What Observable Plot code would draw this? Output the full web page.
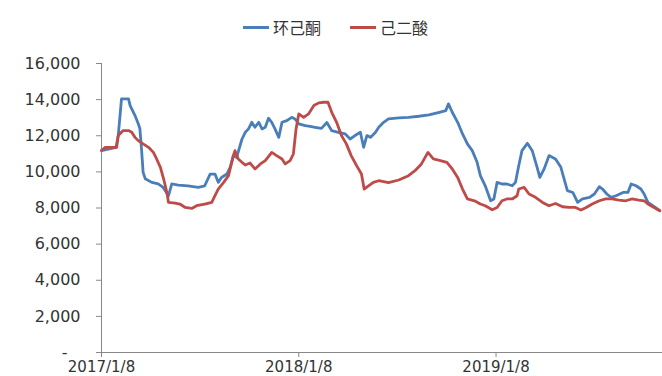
<!DOCTYPE html>
<html><head><meta charset="utf-8">
<script src="https://cdn.jsdelivr.net/npm/d3@7"></script>
<script src="https://cdn.jsdelivr.net/npm/@observablehq/plot@0.6"></script>
<style>
html,body{margin:0;padding:0;overflow:hidden;background:#fff;width:662px;height:376px}
#wrap{position:relative;width:662px;height:376px;overflow:hidden}
#legend{position:absolute;left:0;top:0;width:662px;height:45px;font-family:"DejaVu Sans","Noto Sans CJK SC",sans-serif;font-size:16px;color:#333}
.item{position:absolute;top:17px;height:20px;display:flex;align-items:center;white-space:nowrap}
.sw{width:26px;height:3px;margin-right:4px}
#chart{position:absolute;left:0;top:45px}
</style></head><body>
<div id="wrap">
  <div id="legend"></div>
  <div id="chart"></div>
</div>
<script>
const seriesNames = ["环己酮", "己二酸"];
const seriesColors = ["#4A7EBB", "#BE4B48"];
const xTickLabels = ["2017-01-08", "2018-01-08", "2019-01-08"];
const yTicks = [0, 2000, 4000, 6000, 8000, 10000, 12000, 14000, 16000];

const blueDates = ["2017-01-08","2017-02-04","2017-02-08","2017-02-14","2017-02-27","2017-03-02","2017-03-11","2017-03-17","2017-03-20","2017-03-23","2017-03-26","2017-03-30","2017-04-11","2017-04-23","2017-05-02","2017-05-12","2017-05-18","2017-05-30","2017-06-17","2017-07-06","2017-07-18","2017-07-28","2017-08-06","2017-08-12","2017-08-18","2017-08-28","2017-09-03","2017-09-09","2017-09-15","2017-09-25","2017-10-01","2017-10-07","2017-10-13","2017-10-19","2017-10-26","2017-11-01","2017-11-07","2017-11-13","2017-11-19","2017-11-25","2017-12-02","2017-12-08","2017-12-17","2017-12-26","2018-01-01","2018-01-08","2018-01-20","2018-01-29","2018-02-07","2018-02-19","2018-03-01","2018-03-10","2018-03-22","2018-04-04","2018-04-13","2018-04-22","2018-05-02","2018-05-08","2018-05-14","2018-05-21","2018-05-30","2018-06-05","2018-06-14","2018-06-23","2018-07-12","2018-07-30","2018-08-18","2018-09-06","2018-09-25","2018-10-07","2018-10-12","2018-10-19","2018-10-29","2018-11-07","2018-11-16","2018-11-25","2018-12-04","2018-12-10","2018-12-19","2018-12-29","2019-01-04","2019-01-10","2019-01-19","2019-01-28","2019-02-07","2019-02-13","2019-02-19","2019-02-25","2019-03-07","2019-03-16","2019-03-25","2019-03-30","2019-04-07","2019-04-16","2019-04-28","2019-05-08","2019-05-14","2019-05-20","2019-05-30","2019-06-08","2019-06-17","2019-06-30","2019-07-09","2019-07-18","2019-07-24","2019-08-01","2019-08-09","2019-08-18","2019-08-31","2019-09-09","2019-09-15","2019-09-24","2019-10-03","2019-10-09","2019-10-16","2019-10-25","2019-11-07"];
const blueValues = [11180,11360,12010,14040,14040,13670,13120,12660,12400,11290,9970,9620,9420,9330,9140,8680,9330,9270,9230,9140,9230,9880,9880,9420,9690,9880,10250,10900,10800,11820,12190,12380,12745,12470,12745,12380,12470,12970,12745,12380,11910,12745,12840,13020,12930,12660,12560,12520,12470,12410,12730,12280,12190,12100,11820,12010,12190,11360,12010,11910,12190,12470,12745,12930,12990,13020,13080,13155,13300,13390,13765,13300,12745,12100,11550,11175,10530,9790,9230,8400,8500,9420,9330,9330,9230,9420,10340,11175,11580,11175,10250,9690,10160,10900,10715,10250,9605,8960,8860,8310,8500,8590,8775,9180,9050,8775,8590,8680,8860,8860,9330,9230,9050,8775,8310,8125,7850];

const redDates = ["2017-01-08","2017-01-15","2017-02-05","2017-02-08","2017-02-17","2017-02-27","2017-03-05","2017-03-11","2017-03-17","2017-03-26","2017-04-05","2017-04-14","2017-04-20","2017-04-27","2017-05-03","2017-05-09","2017-05-12","2017-05-24","2017-06-02","2017-06-12","2017-06-24","2017-07-03","2017-07-18","2017-07-31","2017-08-06","2017-08-12","2017-08-22","2017-08-31","2017-09-09","2017-09-12","2017-09-18","2017-09-25","2017-10-01","2017-10-10","2017-10-19","2017-10-29","2017-11-07","2017-11-19","2017-11-28","2017-12-08","2017-12-14","2017-12-23","2017-12-29","2018-01-03","2018-01-08","2018-01-17","2018-01-26","2018-02-05","2018-02-14","2018-02-23","2018-03-03","2018-03-10","2018-03-19","2018-03-28","2018-04-06","2018-04-15","2018-04-25","2018-05-04","2018-05-09","2018-05-17","2018-05-26","2018-06-05","2018-06-23","2018-07-12","2018-07-30","2018-08-11","2018-08-23","2018-09-04","2018-09-14","2018-09-27","2018-10-09","2018-10-19","2018-10-29","2018-11-07","2018-11-16","2018-11-29","2018-12-10","2018-12-19","2019-01-01","2019-01-10","2019-01-19","2019-01-28","2019-02-07","2019-02-16","2019-02-19","2019-03-01","2019-03-10","2019-03-22","2019-04-04","2019-04-16","2019-04-28","2019-05-11","2019-05-23","2019-06-04","2019-06-14","2019-06-23","2019-07-05","2019-07-18","2019-07-30","2019-08-11","2019-08-23","2019-09-05","2019-09-17","2019-09-29","2019-10-09","2019-10-16","2019-10-25","2019-11-07"];
const redValues = [11180,11360,11360,12010,12285,12285,12190,11910,11730,11550,11360,11080,10715,10250,9605,8860,8310,8275,8220,8030,7975,8125,8220,8310,8680,9050,9420,9790,10900,11175,10715,10530,10380,10490,10160,10440,10620,11080,10900,10715,10440,10620,10990,12380,13210,13020,13210,13670,13820,13855,13855,13300,12745,12010,11550,10900,10345,9880,9050,9230,9420,9510,9400,9550,9790,10065,10440,11080,10715,10620,10530,10160,9695,9050,8500,8400,8220,8125,7900,8030,8400,8500,8500,8680,9050,9140,8775,8590,8310,8125,8250,8070,8030,8030,7890,8015,8220,8400,8500,8500,8440,8400,8500,8440,8400,8220,8070,7850];

const blue = blueDates.map((d, i) => ({date: new Date(d), value: blueValues[i]}));
const red = redDates.map((d, i) => ({date: new Date(d), value: redValues[i]}));

// legend
const legend = document.getElementById("legend");
const legendLeft = [243, 350];
seriesNames.forEach((name, i) => {
  const it = document.createElement("div");
  it.className = "item";
  it.style.left = legendLeft[i] + "px";
  it.innerHTML = `<span class="sw" style="background:${seriesColors[i]}"></span><span>${name}</span>`;
  legend.appendChild(it);
});

const start = new Date("2017-01-08");
const end = new Date("2019-11-12");
const fmtDate = d => `${d.getUTCFullYear()}/${d.getUTCMonth() + 1}/${d.getUTCDate()}`;
const fmtY = d => d3.format(",")(d);

const chart = Plot.plot({
  width: 662,
  height: 331,
  marginLeft: 101,
  marginRight: 0,
  marginTop: 18,
  marginBottom: 24,
  style: {fontFamily: "DejaVu Sans, sans-serif", fontSize: "16px", background: "#fff"},
  x: {type: "utc", domain: [start, end], label: null},
  y: {domain: [0, 16000], label: null},
  marks: [
    Plot.axisY({ticks: yTicks, tickFormat: d => d === 0 ? "" : fmtY(d), tickSize: 5, tickPadding: 16, stroke: "#888", fill: "#333", label: null}),
    Plot.text([0], {x: () => start, y: d => d, text: () => "-", textAnchor: "end", dx: -34, fill: "#333"}),
    Plot.axisX({ticks: xTickLabels.map(d => new Date(d)), tickFormat: fmtDate, tickSize: 5, tickPadding: 4, fontSize: 15, stroke: "#888", fill: "#333", label: null}),
    Plot.ruleY([0], {stroke: "#888", strokeWidth: 1}),
    Plot.ruleX([start], {y1: 0, y2: 16000, stroke: "#888", strokeWidth: 1}),
    Plot.lineY(blue, {x: "date", y: "value", stroke: seriesColors[0], strokeWidth: 2.8}),
    Plot.lineY(red, {x: "date", y: "value", stroke: seriesColors[1], strokeWidth: 2.8})
  ]
});
document.getElementById("chart").appendChild(chart);
</script>
</body></html>
